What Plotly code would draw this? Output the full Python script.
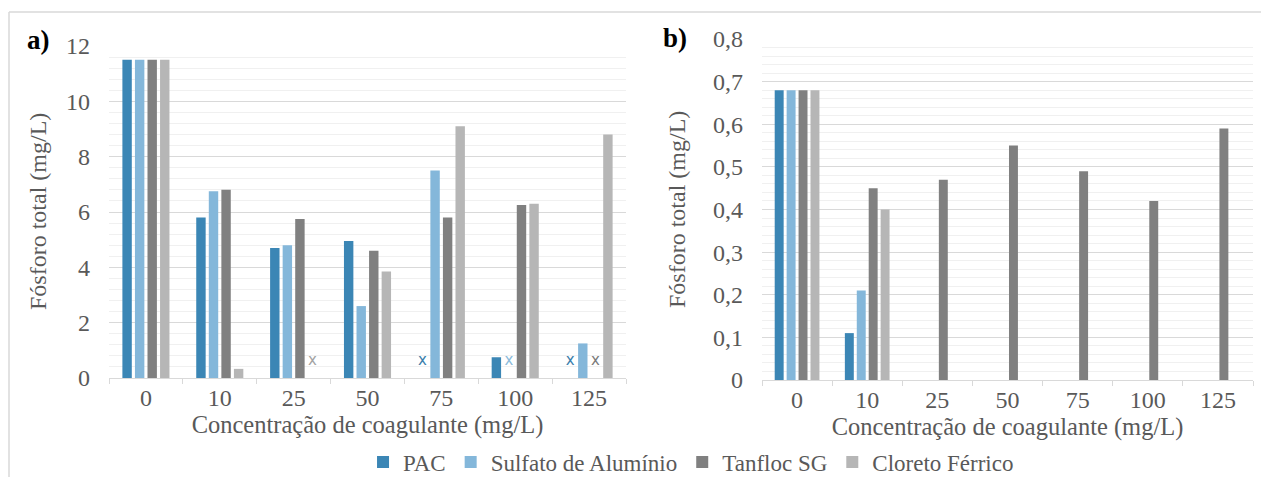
import plotly.graph_objects as go

# ---------------- data ----------------
categories = ["0", "10", "25", "50", "75", "100", "125"]
series_names = ["PAC", "Sulfato de Alumínio", "Tanfloc SG", "Cloreto Férrico"]

# panel a) – Fósforo total (mg/L)
pac_a = [11.5, 5.8, 4.7, 4.95, None, 0.75, None]
sulfato_a = [11.5, 6.75, 4.8, 2.6, 7.5, None, 1.25]
tanfloc_a = [11.5, 6.8, 5.75, 4.6, 5.8, 6.25, None]
cloreto_a = [11.5, 0.33, None, 3.85, 9.1, 6.3, 8.8]

# panel b) – Fósforo total (mg/L)
pac_b = [0.68, 0.11, None, None, None, None, None]
sulfato_b = [0.68, 0.21, None, None, None, None, None]
tanfloc_b = [0.68, 0.45, 0.47, 0.55, 0.49, 0.42, 0.59]
cloreto_b = [0.68, 0.40, None, None, None, None, None]

y_ticks_a = [0, 2, 4, 6, 8, 10, 12]
y_ticks_b = [0, 0.1, 0.2, 0.3, 0.4, 0.5, 0.6, 0.7, 0.8]

# ---------------- style ----------------
colors = ["#3b86b5", "#84b7da", "#808080", "#b6b6b6"]
mark_colors = ["#3a7eab", "#8bbbdb", "#7a7a7a", "#a3a3a3"]
W, H = 1261, 477
FONT = "Liberation Serif, DejaVu Serif, serif"
TXT = "#595959"
GRID = "#d9d9d9"
MINOR = "#f0f0f0"
BARGAP = 0.32
MARK_Y = 0.6  # vertical placement of the "x" labels (panel a units)


def px_x(p):
    return p / W


def px_y(p):
    return 1 - p / H


fig = go.Figure()

data_a = [pac_a, sulfato_a, tanfloc_a, cloreto_a]
data_b = [pac_b, sulfato_b, tanfloc_b, cloreto_b]

for k, name in enumerate(series_names):
    fig.add_trace(go.Bar(
        x=categories, y=data_a[k], name=name, marker_color=colors[k],
        marker_line_width=0, legendgroup=name, showlegend=True,
        xaxis="x", yaxis="y"))
for k, name in enumerate(series_names):
    fig.add_trace(go.Bar(
        x=categories, y=data_b[k], name=name, marker_color=colors[k],
        marker_line_width=0, legendgroup=name, showlegend=False,
        xaxis="x2", yaxis="y2"))

# "x" markers for missing results in panel a
pitch = (1 - BARGAP) / 4
for k, name in enumerate(series_names):
    xs = [i + (k - 1.5) * pitch for i, v in enumerate(data_a[k]) if v is None]
    if not xs:
        continue
    fig.add_trace(go.Scatter(
        x=xs, y=[MARK_Y] * len(xs), mode="text", text=["x"] * len(xs),
        textfont=dict(family="DejaVu Sans", size=15, color=mark_colors[k]),
        textposition="middle center", showlegend=False, hoverinfo="skip",
        xaxis="x3", yaxis="y"))

xa_dom = [px_x(109), px_x(626)]
xb_dom = [px_x(762), px_x(1253)]
ya_dom = [px_y(378), px_y(46)]
yb_dom = [px_y(380), px_y(39)]

common_x = dict(
    type="category", showgrid=False, showline=True, linecolor=GRID, linewidth=1,
    ticks="outside", tickson="boundaries", ticklen=5, tickcolor=GRID,
    ticklabelstandoff=-2,
    tickfont=dict(family=FONT, size=24, color=TXT), range=[-0.5, 6.5],
    automargin=False, zeroline=False,
    title=dict(text="Concentração de coagulante (mg/L)",
               font=dict(family=FONT, size=24.5, color=TXT), standoff=0),
)

fig.update_layout(
    width=W, height=H,
    margin=dict(l=0, r=0, t=0, b=0, autoexpand=False),
    paper_bgcolor="white", plot_bgcolor="white",
    barmode="group", bargap=BARGAP, bargroupgap=0.25,
    separators=",.",
    font=dict(family=FONT, color=TXT),
    xaxis=dict(domain=xa_dom, anchor="y", **common_x),
    xaxis2=dict(domain=xb_dom, anchor="y2", **common_x),
    xaxis3=dict(overlaying="x", range=[-0.5, 6.5], visible=False, anchor="y"),
    yaxis=dict(
        domain=ya_dom, anchor="x", range=[0, 12], tickvals=y_ticks_a,
        showgrid=True, gridcolor=GRID, gridwidth=1, zeroline=False,
        showline=False, ticks="", ticklabelstandoff=18,
        tickfont=dict(family=FONT, size=24, color=TXT),
        minor=dict(dtick=0.4, showgrid=True, gridcolor=MINOR, gridwidth=1),
        automargin=False,
    ),
    yaxis2=dict(
        domain=yb_dom, anchor="x2", range=[0, 0.8], tickvals=y_ticks_b,
        showgrid=True, gridcolor=GRID, gridwidth=1, zeroline=False,
        showline=False, ticks="", ticklabelstandoff=18,
        tickfont=dict(family=FONT, size=24, color=TXT),
        minor=dict(dtick=0.02, showgrid=True, gridcolor=MINOR, gridwidth=1),
        automargin=False,
    ),
    legend=dict(
        orientation="h", x=0.548, xanchor="center", y=px_y(462),
        yanchor="middle", font=dict(family=FONT, size=23, color=TXT),
        itemwidth=30, traceorder="normal", bgcolor="rgba(0,0,0,0)",
    ),
    showlegend=True,
)

# y-axis titles and panel labels
annotations = [
    dict(text="Fósforo total (mg/L)", x=px_x(38), y=px_y(212), xref="paper",
         yref="paper", xanchor="center", yanchor="middle", textangle=-90,
         showarrow=False, font=dict(family=FONT, size=24, color=TXT)),
    dict(text="Fósforo total (mg/L)", x=px_x(677), y=px_y(210), xref="paper",
         yref="paper", xanchor="center", yanchor="middle", textangle=-90,
         showarrow=False, font=dict(family=FONT, size=24, color=TXT)),
    dict(text="<b>a)</b>", x=px_x(38), y=px_y(40), xref="paper", yref="paper",
         xanchor="center", yanchor="middle",
         showarrow=False, font=dict(family=FONT, size=27, color="black")),
    dict(text="<b>b)</b>", x=px_x(675), y=px_y(38), xref="paper", yref="paper",
         xanchor="center", yanchor="middle",
         showarrow=False, font=dict(family=FONT, size=27, color="black")),
]
fig.update_layout(annotations=annotations)

# outer frame lines (top and left)
fig.update_layout(shapes=[
    dict(type="line", xref="paper", yref="paper", x0=px_x(9), x1=1,
         y0=px_y(12), y1=px_y(12), line=dict(color=GRID, width=1.5)),
    dict(type="line", xref="paper", yref="paper", x0=px_x(9), x1=px_x(9),
         y0=px_y(12), y1=0, line=dict(color=GRID, width=1.5)),
])

fig.write_html("out.html",
               config={"displayModeBar": False},
               post_script="document.body.style.margin='0';")
